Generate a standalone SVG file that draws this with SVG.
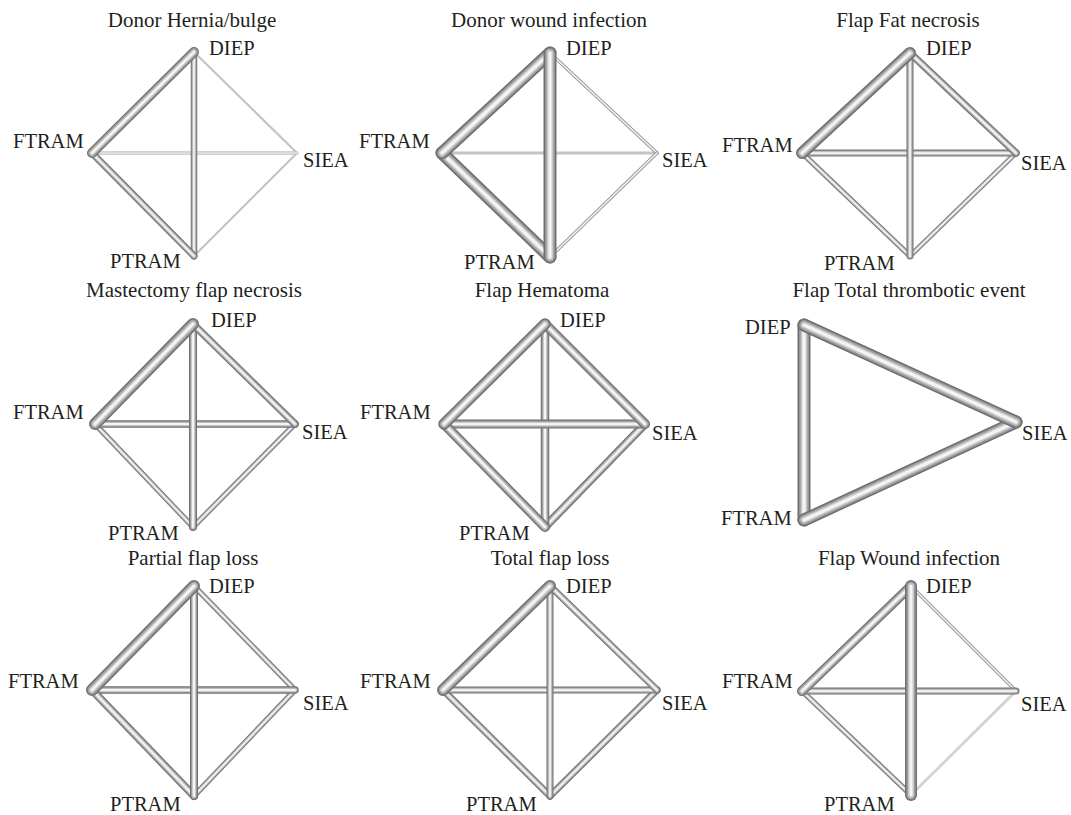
<svg xmlns="http://www.w3.org/2000/svg" width="1071" height="815" viewBox="0 0 1071 815">
<style>
text{font-family:"Liberation Serif","Times New Roman",serif;fill:#231f20;font-size:20.5px}
.title{font-size:21px;text-anchor:middle}
line{stroke-linecap:round;fill:none}
.o{stroke:#707070}
.a{stroke:#9c9c9c}
.b{stroke:#c8c8c8}
.i{stroke:#f4f4f4}
.t{stroke:#c4c4c4}
</style>
<rect width="1071" height="815" fill="#ffffff"/>

<!-- Panel 1 -->
<g id="panel1">
<text class="title" x="192" y="27">Donor Hernia/bulge</text>
<g id="p1-DIEP"><text x="209" y="55">DIEP</text></g>
<g id="p1-FTRAM"><text x="13" y="148">FTRAM</text></g>
<g id="p1-SIEA"><text x="303" y="167">SIEA</text></g>
<g id="p1-PTRAM"><text x="110" y="268">PTRAM</text></g>
<g id="p1-edges">
<line class="t" x1="194" y1="52" x2="297" y2="153" stroke-width="2.2"/>
<line class="t" x1="297" y1="153" x2="194" y2="256" stroke-width="2.2"/>
<line class="t" x1="92" y1="153" x2="297" y2="153" stroke-width="3.5"/><line class="i" x1="92" y1="153" x2="297" y2="153" stroke-width="1"/>
<line class="o" x1="194" y1="52" x2="194" y2="256" stroke-width="6.5"/><line class="a" x1="194" y1="52" x2="194" y2="256" stroke-width="4.9"/><line class="b" x1="194" y1="52" x2="194" y2="256" stroke-width="3.25"/><line class="i" x1="194" y1="52" x2="194" y2="256" stroke-width="1.6"/>
<line class="o" x1="92" y1="153" x2="194" y2="256" stroke-width="7"/><line class="a" x1="92" y1="153" x2="194" y2="256" stroke-width="5.25"/><line class="b" x1="92" y1="153" x2="194" y2="256" stroke-width="3.5"/><line class="i" x1="92" y1="153" x2="194" y2="256" stroke-width="1.75"/>
<line class="o" x1="194" y1="52" x2="92" y2="153" stroke-width="10"/><line class="a" x1="194" y1="52" x2="92" y2="153" stroke-width="7.5"/><line class="b" x1="194" y1="52" x2="92" y2="153" stroke-width="5"/><line class="i" x1="194" y1="52" x2="92" y2="153" stroke-width="2.5"/>
</g>
</g>

<!-- Panel 2 -->
<g id="panel2">
<text class="title" x="549" y="27">Donor wound infection</text>
<g id="p2-DIEP"><text x="566" y="55">DIEP</text></g>
<g id="p2-FTRAM"><text x="359" y="148">FTRAM</text></g>
<g id="p2-SIEA"><text x="662" y="167">SIEA</text></g>
<g id="p2-PTRAM"><text x="464" y="269">PTRAM</text></g>
<g id="p2-edges">
<line class="t" x1="442" y1="153" x2="657" y2="153" stroke-width="3"/>
<line class="a" x1="550" y1="53" x2="657" y2="153" stroke-width="3.5"/><line class="i" x1="550" y1="53" x2="657" y2="153" stroke-width="1.5"/>
<line class="a" x1="657" y1="153" x2="550" y2="257" stroke-width="3.5"/><line class="i" x1="657" y1="153" x2="550" y2="257" stroke-width="1.5"/>
<line class="o" x1="442" y1="153" x2="550" y2="257" stroke-width="13"/><line class="a" x1="442" y1="153" x2="550" y2="257" stroke-width="9.75"/><line class="b" x1="442" y1="153" x2="550" y2="257" stroke-width="6.5"/><line class="i" x1="442" y1="153" x2="550" y2="257" stroke-width="3.25"/>
<line class="o" x1="550" y1="53" x2="442" y2="153" stroke-width="13"/><line class="a" x1="550" y1="53" x2="442" y2="153" stroke-width="9.75"/><line class="b" x1="550" y1="53" x2="442" y2="153" stroke-width="6.5"/><line class="i" x1="550" y1="53" x2="442" y2="153" stroke-width="3.25"/>
<line class="o" x1="550" y1="53" x2="550" y2="257" stroke-width="13"/><line class="a" x1="550" y1="53" x2="550" y2="257" stroke-width="9.75"/><line class="b" x1="550" y1="53" x2="550" y2="257" stroke-width="6.5"/><line class="i" x1="550" y1="53" x2="550" y2="257" stroke-width="3.25"/>
</g>
</g>

<!-- Panel 3 -->
<g id="panel3">
<text class="title" x="908" y="27">Flap Fat necrosis</text>
<g id="p3-DIEP"><text x="926" y="55">DIEP</text></g>
<g id="p3-FTRAM"><text x="722" y="152">FTRAM</text></g>
<g id="p3-SIEA"><text x="1021" y="170">SIEA</text></g>
<g id="p3-PTRAM"><text x="824" y="270">PTRAM</text></g>
<g id="p3-edges">
<line class="o" x1="1016" y1="153" x2="910" y2="256" stroke-width="5"/><line class="a" x1="1016" y1="153" x2="910" y2="256" stroke-width="3.75"/><line class="b" x1="1016" y1="153" x2="910" y2="256" stroke-width="2.5"/><line class="i" x1="1016" y1="153" x2="910" y2="256" stroke-width="1.25"/>
<line class="o" x1="802" y1="153" x2="910" y2="256" stroke-width="5.5"/><line class="a" x1="802" y1="153" x2="910" y2="256" stroke-width="4.1"/><line class="b" x1="802" y1="153" x2="910" y2="256" stroke-width="2.75"/><line class="i" x1="802" y1="153" x2="910" y2="256" stroke-width="1.4"/>
<line class="o" x1="802" y1="153" x2="1016" y2="153" stroke-width="7"/><line class="a" x1="802" y1="153" x2="1016" y2="153" stroke-width="5.25"/><line class="b" x1="802" y1="153" x2="1016" y2="153" stroke-width="3.5"/><line class="i" x1="802" y1="153" x2="1016" y2="153" stroke-width="1.75"/>
<line class="o" x1="910" y1="53" x2="910" y2="256" stroke-width="7"/><line class="a" x1="910" y1="53" x2="910" y2="256" stroke-width="5.25"/><line class="b" x1="910" y1="53" x2="910" y2="256" stroke-width="3.5"/><line class="i" x1="910" y1="53" x2="910" y2="256" stroke-width="1.75"/>
<line class="o" x1="910" y1="53" x2="1016" y2="153" stroke-width="7.5"/><line class="a" x1="910" y1="53" x2="1016" y2="153" stroke-width="5.6"/><line class="b" x1="910" y1="53" x2="1016" y2="153" stroke-width="3.75"/><line class="i" x1="910" y1="53" x2="1016" y2="153" stroke-width="1.9"/>
<line class="o" x1="910" y1="53" x2="802" y2="153" stroke-width="12"/><line class="a" x1="910" y1="53" x2="802" y2="153" stroke-width="9"/><line class="b" x1="910" y1="53" x2="802" y2="153" stroke-width="6"/><line class="i" x1="910" y1="53" x2="802" y2="153" stroke-width="3"/>
</g>
</g>

<!-- Panel 4 -->
<g id="panel4">
<text class="title" x="194" y="297">Mastectomy flap necrosis</text>
<g id="p4-DIEP"><text x="211" y="327">DIEP</text></g>
<g id="p4-FTRAM"><text x="13" y="419">FTRAM</text></g>
<g id="p4-SIEA"><text x="302" y="439">SIEA</text></g>
<g id="p4-PTRAM"><text x="108" y="540">PTRAM</text></g>
<g id="p4-edges">
<line class="o" x1="295" y1="424" x2="193" y2="527" stroke-width="5.5"/><line class="a" x1="295" y1="424" x2="193" y2="527" stroke-width="4.1"/><line class="b" x1="295" y1="424" x2="193" y2="527" stroke-width="2.75"/><line class="i" x1="295" y1="424" x2="193" y2="527" stroke-width="1.4"/>
<line class="o" x1="95" y1="424" x2="193" y2="527" stroke-width="5.5"/><line class="a" x1="95" y1="424" x2="193" y2="527" stroke-width="4.1"/><line class="b" x1="95" y1="424" x2="193" y2="527" stroke-width="2.75"/><line class="i" x1="95" y1="424" x2="193" y2="527" stroke-width="1.4"/>
<line class="o" x1="95" y1="424" x2="295" y2="424" stroke-width="7.5"/><line class="a" x1="95" y1="424" x2="295" y2="424" stroke-width="5.6"/><line class="b" x1="95" y1="424" x2="295" y2="424" stroke-width="3.75"/><line class="i" x1="95" y1="424" x2="295" y2="424" stroke-width="1.9"/>
<line class="o" x1="193" y1="324" x2="193" y2="527" stroke-width="8"/><line class="a" x1="193" y1="324" x2="193" y2="527" stroke-width="6"/><line class="b" x1="193" y1="324" x2="193" y2="527" stroke-width="4"/><line class="i" x1="193" y1="324" x2="193" y2="527" stroke-width="2"/>
<line class="o" x1="193" y1="324" x2="295" y2="424" stroke-width="7.5"/><line class="a" x1="193" y1="324" x2="295" y2="424" stroke-width="5.6"/><line class="b" x1="193" y1="324" x2="295" y2="424" stroke-width="3.75"/><line class="i" x1="193" y1="324" x2="295" y2="424" stroke-width="1.9"/>
<line class="o" x1="193" y1="324" x2="95" y2="424" stroke-width="12"/><line class="a" x1="193" y1="324" x2="95" y2="424" stroke-width="9"/><line class="b" x1="193" y1="324" x2="95" y2="424" stroke-width="6"/><line class="i" x1="193" y1="324" x2="95" y2="424" stroke-width="3"/>
</g>
</g>

<!-- Panel 5 -->
<g id="panel5">
<text class="title" x="542" y="297">Flap Hematoma</text>
<g id="p5-DIEP"><text x="560" y="327">DIEP</text></g>
<g id="p5-FTRAM"><text x="360" y="419">FTRAM</text></g>
<g id="p5-SIEA"><text x="652" y="440">SIEA</text></g>
<g id="p5-PTRAM"><text x="459" y="540">PTRAM</text></g>
<g id="p5-edges">
<line class="o" x1="645" y1="424" x2="545" y2="527" stroke-width="8.5"/><line class="a" x1="645" y1="424" x2="545" y2="527" stroke-width="6.4"/><line class="b" x1="645" y1="424" x2="545" y2="527" stroke-width="4.25"/><line class="i" x1="645" y1="424" x2="545" y2="527" stroke-width="2.1"/>
<line class="o" x1="545" y1="324" x2="545" y2="527" stroke-width="8.5"/><line class="a" x1="545" y1="324" x2="545" y2="527" stroke-width="6.4"/><line class="b" x1="545" y1="324" x2="545" y2="527" stroke-width="4.25"/><line class="i" x1="545" y1="324" x2="545" y2="527" stroke-width="2.1"/>
<line class="o" x1="444" y1="424" x2="645" y2="424" stroke-width="9"/><line class="a" x1="444" y1="424" x2="645" y2="424" stroke-width="6.75"/><line class="b" x1="444" y1="424" x2="645" y2="424" stroke-width="4.5"/><line class="i" x1="444" y1="424" x2="645" y2="424" stroke-width="2.25"/>
<line class="o" x1="444" y1="424" x2="545" y2="527" stroke-width="10"/><line class="a" x1="444" y1="424" x2="545" y2="527" stroke-width="7.5"/><line class="b" x1="444" y1="424" x2="545" y2="527" stroke-width="5"/><line class="i" x1="444" y1="424" x2="545" y2="527" stroke-width="2.5"/>
<line class="o" x1="545" y1="324" x2="645" y2="424" stroke-width="10"/><line class="a" x1="545" y1="324" x2="645" y2="424" stroke-width="7.5"/><line class="b" x1="545" y1="324" x2="645" y2="424" stroke-width="5"/><line class="i" x1="545" y1="324" x2="645" y2="424" stroke-width="2.5"/>
<line class="o" x1="545" y1="324" x2="444" y2="424" stroke-width="11.5"/><line class="a" x1="545" y1="324" x2="444" y2="424" stroke-width="8.6"/><line class="b" x1="545" y1="324" x2="444" y2="424" stroke-width="5.75"/><line class="i" x1="545" y1="324" x2="444" y2="424" stroke-width="2.9"/>
</g>
</g>

<!-- Panel 6 -->
<g id="panel6">
<text class="title" x="909" y="297">Flap Total thrombotic event</text>
<g id="p6-DIEP"><text x="745" y="334">DIEP</text></g>
<g id="p6-SIEA"><text x="1022" y="440">SIEA</text></g>
<g id="p6-FTRAM"><text x="721" y="525">FTRAM</text></g>
<g id="p6-edges">
<line class="o" x1="804" y1="325" x2="804" y2="520" stroke-width="13"/><line class="a" x1="804" y1="325" x2="804" y2="520" stroke-width="9.75"/><line class="b" x1="804" y1="325" x2="804" y2="520" stroke-width="6.5"/><line class="i" x1="804" y1="325" x2="804" y2="520" stroke-width="3.25"/>
<line class="o" x1="804" y1="520" x2="1016" y2="422" stroke-width="13"/><line class="a" x1="804" y1="520" x2="1016" y2="422" stroke-width="9.75"/><line class="b" x1="804" y1="520" x2="1016" y2="422" stroke-width="6.5"/><line class="i" x1="804" y1="520" x2="1016" y2="422" stroke-width="3.25"/>
<line class="o" x1="804" y1="325" x2="1016" y2="422" stroke-width="13"/><line class="a" x1="804" y1="325" x2="1016" y2="422" stroke-width="9.75"/><line class="b" x1="804" y1="325" x2="1016" y2="422" stroke-width="6.5"/><line class="i" x1="804" y1="325" x2="1016" y2="422" stroke-width="3.25"/>
</g>
</g>

<!-- Panel 7 -->
<g id="panel7">
<text class="title" x="193" y="565">Partial flap loss</text>
<g id="p7-DIEP"><text x="209" y="593">DIEP</text></g>
<g id="p7-FTRAM"><text x="8" y="688">FTRAM</text></g>
<g id="p7-SIEA"><text x="303" y="710">SIEA</text></g>
<g id="p7-PTRAM"><text x="110" y="811">PTRAM</text></g>
<g id="p7-edges">
<line class="o" x1="295" y1="690" x2="194" y2="796" stroke-width="5.5"/><line class="a" x1="295" y1="690" x2="194" y2="796" stroke-width="4.1"/><line class="b" x1="295" y1="690" x2="194" y2="796" stroke-width="2.75"/><line class="i" x1="295" y1="690" x2="194" y2="796" stroke-width="1.4"/>
<line class="o" x1="194" y1="586" x2="295" y2="690" stroke-width="5.5"/><line class="a" x1="194" y1="586" x2="295" y2="690" stroke-width="4.1"/><line class="b" x1="194" y1="586" x2="295" y2="690" stroke-width="2.75"/><line class="i" x1="194" y1="586" x2="295" y2="690" stroke-width="1.4"/>
<line class="o" x1="92" y1="690" x2="295" y2="690" stroke-width="7.5"/><line class="a" x1="92" y1="690" x2="295" y2="690" stroke-width="5.6"/><line class="b" x1="92" y1="690" x2="295" y2="690" stroke-width="3.75"/><line class="i" x1="92" y1="690" x2="295" y2="690" stroke-width="1.9"/>
<line class="o" x1="92" y1="690" x2="194" y2="796" stroke-width="8"/><line class="a" x1="92" y1="690" x2="194" y2="796" stroke-width="6"/><line class="b" x1="92" y1="690" x2="194" y2="796" stroke-width="4"/><line class="i" x1="92" y1="690" x2="194" y2="796" stroke-width="2"/>
<line class="o" x1="194" y1="586" x2="194" y2="796" stroke-width="8"/><line class="a" x1="194" y1="586" x2="194" y2="796" stroke-width="6"/><line class="b" x1="194" y1="586" x2="194" y2="796" stroke-width="4"/><line class="i" x1="194" y1="586" x2="194" y2="796" stroke-width="2"/>
<line class="o" x1="194" y1="586" x2="92" y2="690" stroke-width="12"/><line class="a" x1="194" y1="586" x2="92" y2="690" stroke-width="9"/><line class="b" x1="194" y1="586" x2="92" y2="690" stroke-width="6"/><line class="i" x1="194" y1="586" x2="92" y2="690" stroke-width="3"/>
</g>
</g>

<!-- Panel 8 -->
<g id="panel8">
<text class="title" x="550" y="565">Total flap loss</text>
<g id="p8-DIEP"><text x="566" y="593">DIEP</text></g>
<g id="p8-FTRAM"><text x="360" y="688">FTRAM</text></g>
<g id="p8-SIEA"><text x="662" y="710">SIEA</text></g>
<g id="p8-PTRAM"><text x="466" y="811">PTRAM</text></g>
<g id="p8-edges">
<line class="o" x1="657" y1="690" x2="550" y2="796" stroke-width="7"/><line class="a" x1="657" y1="690" x2="550" y2="796" stroke-width="5.25"/><line class="b" x1="657" y1="690" x2="550" y2="796" stroke-width="3.5"/><line class="i" x1="657" y1="690" x2="550" y2="796" stroke-width="1.75"/>
<line class="o" x1="443" y1="690" x2="550" y2="796" stroke-width="7"/><line class="a" x1="443" y1="690" x2="550" y2="796" stroke-width="5.25"/><line class="b" x1="443" y1="690" x2="550" y2="796" stroke-width="3.5"/><line class="i" x1="443" y1="690" x2="550" y2="796" stroke-width="1.75"/>
<line class="o" x1="443" y1="690" x2="657" y2="690" stroke-width="7"/><line class="a" x1="443" y1="690" x2="657" y2="690" stroke-width="5.25"/><line class="b" x1="443" y1="690" x2="657" y2="690" stroke-width="3.5"/><line class="i" x1="443" y1="690" x2="657" y2="690" stroke-width="1.75"/>
<line class="o" x1="550" y1="586" x2="550" y2="796" stroke-width="7"/><line class="a" x1="550" y1="586" x2="550" y2="796" stroke-width="5.25"/><line class="b" x1="550" y1="586" x2="550" y2="796" stroke-width="3.5"/><line class="i" x1="550" y1="586" x2="550" y2="796" stroke-width="1.75"/>
<line class="o" x1="550" y1="586" x2="657" y2="690" stroke-width="7"/><line class="a" x1="550" y1="586" x2="657" y2="690" stroke-width="5.25"/><line class="b" x1="550" y1="586" x2="657" y2="690" stroke-width="3.5"/><line class="i" x1="550" y1="586" x2="657" y2="690" stroke-width="1.75"/>
<line class="o" x1="550" y1="586" x2="443" y2="690" stroke-width="12"/><line class="a" x1="550" y1="586" x2="443" y2="690" stroke-width="9"/><line class="b" x1="550" y1="586" x2="443" y2="690" stroke-width="6"/><line class="i" x1="550" y1="586" x2="443" y2="690" stroke-width="3"/>
</g>
</g>

<!-- Panel 9 -->
<g id="panel9">
<text class="title" x="909" y="565">Flap Wound infection</text>
<g id="p9-DIEP"><text x="926" y="593">DIEP</text></g>
<g id="p9-FTRAM"><text x="722" y="688">FTRAM</text></g>
<g id="p9-SIEA"><text x="1021" y="711">SIEA</text></g>
<g id="p9-PTRAM"><text x="824" y="811">PTRAM</text></g>
<g id="p9-edges">
<line class="t" x1="1016" y1="691" x2="911" y2="795" stroke-width="2.5"/><line class="i" x1="1016" y1="691" x2="911" y2="795" stroke-width="0.8"/>
<line class="a" x1="911" y1="586" x2="1016" y2="691" stroke-width="3.5"/><line class="i" x1="911" y1="586" x2="1016" y2="691" stroke-width="1.5"/>
<line class="o" x1="802" y1="691" x2="911" y2="795" stroke-width="5.5"/><line class="a" x1="802" y1="691" x2="911" y2="795" stroke-width="4.1"/><line class="b" x1="802" y1="691" x2="911" y2="795" stroke-width="2.75"/><line class="i" x1="802" y1="691" x2="911" y2="795" stroke-width="1.4"/>
<line class="o" x1="802" y1="691" x2="1016" y2="691" stroke-width="7"/><line class="a" x1="802" y1="691" x2="1016" y2="691" stroke-width="5.25"/><line class="b" x1="802" y1="691" x2="1016" y2="691" stroke-width="3.5"/><line class="i" x1="802" y1="691" x2="1016" y2="691" stroke-width="1.75"/>
<line class="o" x1="911" y1="586" x2="802" y2="691" stroke-width="10"/><line class="a" x1="911" y1="586" x2="802" y2="691" stroke-width="7.5"/><line class="b" x1="911" y1="586" x2="802" y2="691" stroke-width="5"/><line class="i" x1="911" y1="586" x2="802" y2="691" stroke-width="2.5"/>
<line class="o" x1="911" y1="586" x2="911" y2="795" stroke-width="12"/><line class="a" x1="911" y1="586" x2="911" y2="795" stroke-width="9"/><line class="b" x1="911" y1="586" x2="911" y2="795" stroke-width="6"/><line class="i" x1="911" y1="586" x2="911" y2="795" stroke-width="3"/>
</g>
</g>
</svg>
